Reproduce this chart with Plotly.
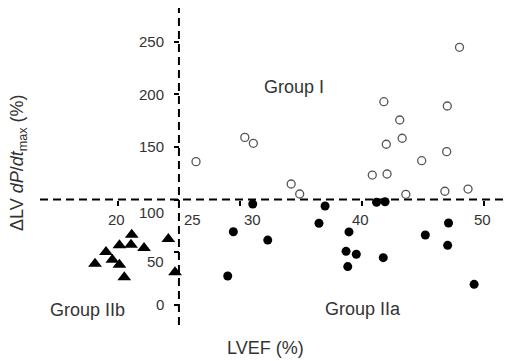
import plotly.graph_objects as go

# ---- data ----
group1_lvef = [26.4, 30.4, 31.1, 34.2, 34.9, 48.0, 41.8, 47.0, 43.1, 43.3, 42.0, 46.95, 44.9, 40.85, 42.06, 43.6, 46.8, 48.7]
group1_dpdt = [136, 159, 153.4, 114.8, 105.3, 244.5, 192.9, 188.8, 175.5, 158.2, 152.5, 145.5, 136.9, 123.3, 124.3, 105, 107.9, 110]

group2a_lvef = [31.05, 29.46, 32.28, 29.0, 36.98, 36.48, 38.94, 38.7, 39.54, 38.84, 41.2, 41.9, 41.75, 45.2, 47.1, 47.03, 49.2]
group2a_dpdt = [95.8, 69.5, 61.6, 27.5, 93.9, 77.5, 69.3, 50.9, 48.1, 36.4, 97.5, 98, 44.9, 66.4, 77.8, 56.6, 19.6]

group2b_lvef = [21.13, 20.12, 21.07, 22.14, 19.02, 19.54, 18.12, 20.12, 20.52, 24.13, 24.68]
group2b_dpdt = [66.7, 56.6, 57.2, 54.0, 50.2, 43.0, 39.2, 38.2, 26.2, 62.6, 31.0]

x_ticks = [20, 25, 30, 40, 50]
x_tick_labels = ["20", "25", "30", "40", "50"]
y_ticks = [0, 50, 100, 150, 200, 250]
y_tick_labels = ["0", "50", "100", "150", "200", "250"]

x_cross = 25
y_cross = 100
x_range = [13.61, 51.73]
y_range = [-19.0, 281.8]

FONT = "Liberation Sans, Arial, sans-serif"
TXT = "#333333"

fig = go.Figure()
fig.add_trace(go.Scatter(x=group1_lvef, y=group1_dpdt, mode="markers", name="Group I",
                         marker=dict(symbol="circle-open", size=8, color="#555555",
                                     line=dict(width=1.3, color="#555555"))))
fig.add_trace(go.Scatter(x=group2a_lvef, y=group2a_dpdt, mode="markers", name="Group IIa",
                         marker=dict(symbol="circle", size=9, color="black")))
fig.add_trace(go.Scatter(x=group2b_lvef, y=group2b_dpdt, mode="markers", name="Group IIb",
                         marker=dict(symbol="triangle-up", size=12, color="black")))

# dashed crossing axes
dash = "8px,5px"
fig.add_shape(type="line", xref="x", yref="paper", x0=x_cross, x1=x_cross, y0=0, y1=1,
              line=dict(color="black", width=2, dash=dash), layer="below")
fig.add_shape(type="line", xref="paper", yref="y", x0=0, x1=1, y0=y_cross, y1=y_cross,
              line=dict(color="black", width=2, dash=dash), layer="below")

xpos = (x_cross - x_range[0]) / (x_range[1] - x_range[0])
ypos = (y_cross - y_range[0]) / (y_range[1] - y_range[0])

fig.update_xaxes(range=x_range, showgrid=False, zeroline=False, showline=False,
                 tickvals=x_ticks, showticklabels=False, ticks="outside", ticklen=5,
                 tickwidth=2, tickcolor="black", anchor="free", position=ypos)
fig.update_yaxes(range=y_range, showgrid=False, zeroline=False, showline=False,
                 tickvals=y_ticks, showticklabels=False, ticks="outside", ticklen=5,
                 tickwidth=2, tickcolor="black", anchor="free", position=xpos)

annots = []
# x tick labels (some nudged off the axes as in the reference)
x_shift = {25: 14, 30: 13}
for v, t in zip(x_ticks, x_tick_labels):
    annots.append(dict(x=v, y=y_cross, xref="x", yref="y", text=t, showarrow=False,
                       xshift=x_shift.get(v, -1), yshift=-20, xanchor="center", yanchor="middle",
                       font=dict(family=FONT, size=15, color=TXT)))
# y tick labels
y_shift = {100: -12.5, 50: -9.5}
for v, t in zip(y_ticks, y_tick_labels):
    annots.append(dict(x=x_cross, y=v, xref="x", yref="y", text=t, showarrow=False,
                       xshift=-13, yshift=y_shift.get(v, 0), xanchor="right", yanchor="middle",
                       font=dict(family=FONT, size=15, color=TXT)))
# group labels
for txt, gx, gy in [("Group I", 34.43, 206.8), ("Group IIb", 17.51, -4.7), ("Group IIa", 40.09, -3.8)]:
    annots.append(dict(x=gx, y=gy, xref="x", yref="y", text=txt, showarrow=False,
                       xanchor="center", yanchor="middle",
                       font=dict(family=FONT, size=18, color=TXT)))
# axis titles
annots.append(dict(x=0.484, y=-0.0726, xref="paper", yref="paper", text="LVEF (%)",
                   showarrow=False, xanchor="center", yanchor="middle",
                   font=dict(family=FONT, size=18, color=TXT)))
annots.append(dict(x=-0.0473, y=0.511, xref="paper", yref="paper",
                   text="ΔLV <i>dP</i>/<i>dt</i><sub>max</sub> (%)", textangle=-90,
                   showarrow=False, xanchor="center", yanchor="middle",
                   font=dict(family=FONT, size=18, color=TXT)))

fig.update_layout(width=509, height=361,
                  margin=dict(l=40, r=4, t=8, b=36, autoexpand=False),
                  paper_bgcolor="white", plot_bgcolor="white", showlegend=False,
                  annotations=annots)

fig.write_html("out.html", config={"displayModeBar": False},
               post_script="document.body.style.margin='0';document.body.style.padding='0';")
